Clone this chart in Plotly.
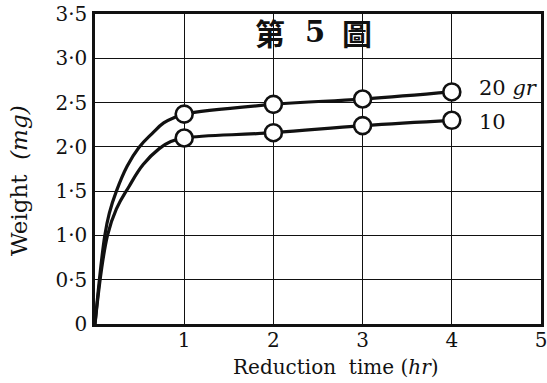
import plotly.graph_objects as go

# Sampled hours and measured weights (mg) for the two charge sizes
hours = [1, 2, 3, 4]
weight_20gr = [2.37, 2.48, 2.54, 2.62]
weight_10gr = [2.10, 2.16, 2.24, 2.30]

# Points along the initial rise of each curve (hr, mg)
rise_t_20 = [0, 0.11, 0.16, 0.24, 0.36, 0.49, 0.64, 0.77, 0.91]
rise_w_20 = [0, 1.00, 1.25, 1.50, 1.78, 1.99, 2.15, 2.27, 2.34]
rise_t_10 = [0, 0.14, 0.24, 0.38, 0.54, 0.72, 0.85]
rise_w_10 = [0, 1.00, 1.30, 1.55, 1.80, 1.98, 2.06]

y_ticks = [0, 0.5, 1.0, 1.5, 2.0, 2.5, 3.0, 3.5]
y_tick_text = ["0", "0·5", "1·0", "1·5", "2·0", "2·5", "3·0", "3·5"]
x_ticks = [1, 2, 3, 4, 5]
x_tick_text = ["1", "2", "3", "4", "5"]

SERIF = "DejaVu Serif"
CJK = "Noto Sans CJK TC"
INK = "#111111"

fig = go.Figure()

for rt, rw, w in [(rise_t_20, rise_w_20, weight_20gr),
                  (rise_t_10, rise_w_10, weight_10gr)]:
    fig.add_trace(go.Scatter(
        x=rt + hours, y=rw + w, mode="lines",
        line=dict(color=INK, width=3.2, shape="spline", smoothing=1.2),
        hoverinfo="skip", showlegend=False))
    fig.add_trace(go.Scatter(
        x=hours, y=w, mode="markers",
        marker=dict(symbol="circle", size=17, color="white",
                    line=dict(color=INK, width=2.6)),
        showlegend=False))

fig.update_xaxes(
    range=[0, 5], tickvals=x_ticks, ticktext=x_tick_text,
    showgrid=True, gridcolor=INK, gridwidth=1, zeroline=False,
    showline=True, linecolor=INK, linewidth=2.5, mirror=True,
    ticks="", ticklabelstandoff=-4, automargin=False,
    ticklabeloverflow="allow",
    tickfont=dict(family=SERIF, size=20, color=INK))
fig.update_yaxes(
    range=[0, 3.5], tickvals=y_ticks, ticktext=y_tick_text,
    showgrid=True, gridcolor=INK, gridwidth=1, zeroline=False,
    showline=True, linecolor=INK, linewidth=2.5, mirror=True,
    ticks="", ticklabelstandoff=1, automargin=False,
    ticklabeloverflow="allow",
    tickfont=dict(family=SERIF, size=20, color=INK))

annotations = [
    dict(text="<b>第</b>", x=(270 - 95) / 446, y=1 - (32 - 14) / 310,
         font=dict(family=CJK, size=30, color=INK)),
    dict(text="<b>5</b>", x=(315 - 95) / 446, y=1 - (32 - 14) / 310,
         font=dict(family=SERIF, size=29, color=INK)),
    dict(text="<b>圖</b>", x=(357 - 95) / 446, y=1 - (32 - 14) / 310,
         font=dict(family=CJK, size=30, color=INK)),
    dict(text="20 <i>gr</i>", x=(477 - 95) / 446, y=1 - (88 - 14) / 310,
         xanchor="left", font=dict(family=SERIF, size=21, color=INK)),
    dict(text="10", x=(477 - 95) / 446, y=1 - (122 - 14) / 310,
         xanchor="left", font=dict(family=SERIF, size=21, color=INK)),
    dict(text="Reduction  time (<i>hr</i>)", x=(336 - 95) / 446,
         y=(324 - 367) / 310,
         font=dict(family=SERIF, size=20, color=INK)),
    dict(text="Weight  <i>(mg)</i>", x=(19 - 95) / 446,
         y=1 - (181 - 14) / 310, textangle=-90,
         font=dict(family=SERIF, size=23, color=INK)),
]
for a in annotations:
    a.setdefault("xanchor", "center")
    fig.add_annotation(xref="paper", yref="paper", showarrow=False,
                       yanchor="middle", **a)

fig.update_layout(
    width=547, height=383,
    margin=dict(l=95, r=6, t=14, b=59, autoexpand=False),
    paper_bgcolor="white", plot_bgcolor="white",
    showlegend=False)

fig.write_html("out.html")
